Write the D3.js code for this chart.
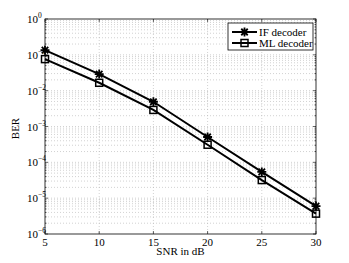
<!DOCTYPE html>
<html><head><meta charset="utf-8">
<script src="https://cdn.jsdelivr.net/npm/d3@7"></script>
<style>body{margin:0;background:#fff}svg{display:block}</style>
</head><body>
<svg id="c" width="349" height="263"></svg>
<script>
const snr = [5, 10, 15, 20, 25, 30];
const berIF = [0.135, 0.029, 0.0049, 5.1e-4, 5.4e-5, 6.0e-6];
const berML = [0.076, 0.0166, 0.0029, 3.1e-4, 3.2e-5, 3.7e-6];
const xTicks = [5, 10, 15, 20, 25, 30];
const yExps = [0, -1, -2, -3, -4, -5, -6];
const seriesNames = ["IF decoder", "ML decoder"];

const svg = d3.select("#c");
const L = 45, R = 316, T = 19, B = 234;
const x = d3.scaleLinear().domain([5, 30]).range([L, R]);
const y = d3.scaleLog().domain([1e-6, 1]).range([B, T]);
const font = "Liberation Serif, Times New Roman, serif";

svg.append("rect").attr("width", 349).attr("height", 263).attr("fill", "#fff");

const grid = svg.append("g").attr("stroke", "#b4b4b4").attr("stroke-width", 0.6).attr("stroke-dasharray", "1,2");
for (let e = -6; e < 0; e++) {
  for (let m = 1; m <= 9; m++) {
    const v = m * Math.pow(10, e);
    if (v <= 1e-6 || v >= 1) continue;
    grid.append("line").attr("x1", L).attr("x2", R).attr("y1", y(v)).attr("y2", y(v));
  }
}
xTicks.slice(1, -1).forEach(t => grid.append("line").attr("x1", x(t)).attr("x2", x(t)).attr("y1", T).attr("y2", B));

svg.append("rect").attr("x", L).attr("y", T).attr("width", R - L).attr("height", B - T)
  .attr("fill", "none").attr("stroke", "#000").attr("stroke-width", 0.8);

const tk = svg.append("g").attr("stroke", "#000").attr("stroke-width", 0.6);
xTicks.forEach(t => {
  tk.append("line").attr("x1", x(t)).attr("x2", x(t)).attr("y1", B).attr("y2", B - 3);
  tk.append("line").attr("x1", x(t)).attr("x2", x(t)).attr("y1", T).attr("y2", T + 3);
});
for (let e = -6; e <= 0; e++) {
  for (let m = 1; m <= 9; m++) {
    const v = m * Math.pow(10, e);
    if (v < 1e-6 || v > 1) continue;
    const len = m === 1 ? 3 : 1.5;
    tk.append("line").attr("x1", L).attr("x2", L + len).attr("y1", y(v)).attr("y2", y(v));
    tk.append("line").attr("x1", R).attr("x2", R - len).attr("y1", y(v)).attr("y2", y(v));
  }
}

svg.append("g").selectAll("text").data(xTicks).join("text")
  .attr("x", d => x(d)).attr("y", 246).attr("text-anchor", "middle")
  .attr("font-family", font).attr("font-size", 11).text(d => d);

yExps.forEach(e => {
  const t = svg.append("text").attr("x", 27).attr("y", y(Math.pow(10, e)) + 4)
    .attr("font-family", font).attr("font-size", 11);
  t.append("tspan").text("10");
  t.append("tspan").attr("dy", -5).attr("font-size", 7.5).text(e === 0 ? "0" : "\u2212" + (-e));
});

svg.append("text").attr("x", (L + R) / 2).attr("y", 255).attr("text-anchor", "middle")
  .attr("font-family", font).attr("font-size", 11).text("SNR in dB");
svg.append("text").attr("transform", `translate(19,${(T + B) / 2 + 2}) rotate(-90)`)
  .attr("text-anchor", "middle").attr("font-family", font).attr("font-size", 11).text("BER");

const line = d3.line().x(d => x(d[0])).y(d => y(d[1]));
const ifData = snr.map((s, i) => [s, berIF[i]]);
const mlData = snr.map((s, i) => [s, berML[i]]);
[ifData, mlData].forEach(d => svg.append("path").attr("d", line(d)).attr("fill", "none")
  .attr("stroke", "#000").attr("stroke-width", 2));

function star(g, cx, cy, r) {
  const p = `M${cx - r},${cy}H${cx + r}M${cx},${cy - r}V${cy + r}` +
    `M${cx - r * 0.72},${cy - r * 0.72}L${cx + r * 0.72},${cy + r * 0.72}` +
    `M${cx - r * 0.72},${cy + r * 0.72}L${cx + r * 0.72},${cy - r * 0.72}`;
  g.append("path").attr("d", p).attr("stroke", "#000").attr("stroke-width", 1.8).attr("fill", "none");
}
function square(g, cx, cy, s) {
  g.append("rect").attr("x", cx - s / 2).attr("y", cy - s / 2).attr("width", s).attr("height", s)
    .attr("fill", "none").attr("stroke", "#000").attr("stroke-width", 1.5);
}
const mk = svg.append("g");
ifData.forEach(d => star(mk, x(d[0]), y(d[1]), 4.5));
mlData.forEach(d => square(mk, x(d[0]), y(d[1]), 7));

const lg = svg.append("g");
lg.append("rect").attr("x", 228).attr("y", 23).attr("width", 85).attr("height", 27)
  .attr("fill", "#fff").attr("stroke", "#000").attr("stroke-width", 0.8);
[[32, 0], [43, 1]].forEach(([ly, i]) => {
  lg.append("line").attr("x1", 232).attr("x2", 257).attr("y1", ly).attr("y2", ly)
    .attr("stroke", "#000").attr("stroke-width", 2);
  if (i === 0) star(lg, 244.5, ly, 4.5); else square(lg, 244.5, ly, 7);
  lg.append("text").attr("x", 259).attr("y", ly + 4).attr("font-family", font)
    .attr("font-size", 11).text(seriesNames[i]);
});
</script>
</body></html>
